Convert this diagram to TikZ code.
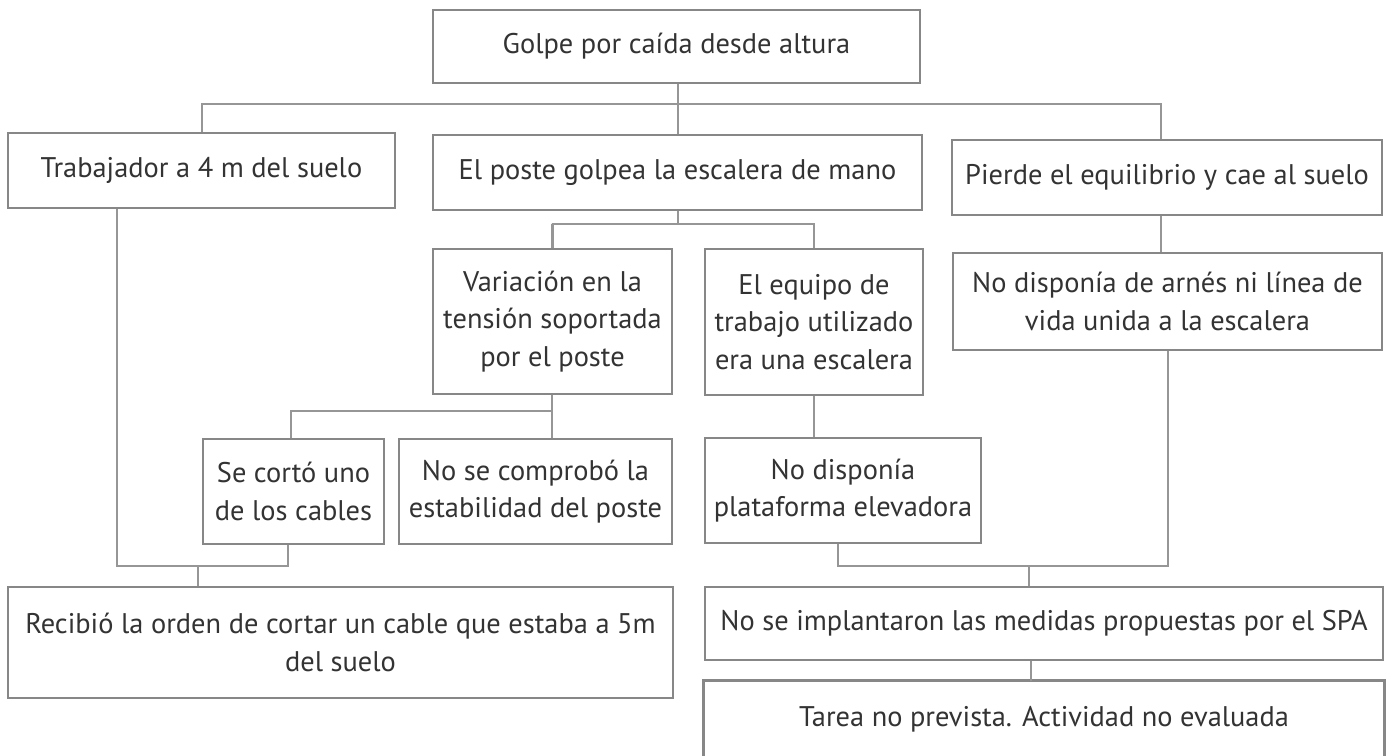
\documentclass[tikz,border=0pt]{standalone}
\usepackage{fontspec}
\setmainfont{PT Sans}
\definecolor{boxcol}{HTML}{878787}
\definecolor{linecol}{HTML}{969696}
\definecolor{txtcol}{HTML}{333333}
\newcommand\bx[7][]{\node[box, #1, minimum width={(#5-#3)*0.75pt}, minimum height={(#6-#4)*0.75pt}] (#2) at ({(#3+#5)/2},{(#4+#6)/2}) {#7};}
\begin{document}
\begin{tikzpicture}[x=0.75pt,y=-0.75pt,
  box/.style={draw=boxcol, line width=2.2pt, fill=white, text=txtcol, align=center, inner sep=0pt,
    font=\fontsize{21.3pt}{28pt}\selectfont},
  conn/.style={draw=linecol, line width=1.6pt}]
\useasboundingbox (0,0) rectangle (1389,756);
\clip (0,0) rectangle (1389,756);
\fill[white] (0,0) rectangle (1389,756);
\coordinate (b1) at (1161,104);
\coordinate (b2) at (552,224);
\coordinate (b3) at (552,411);
\coordinate (b4) at (288,566);
\coordinate (b5) at (1168,566);
\bx{top}{433}{10}{920}{83}{Golpe por caída desde altura}
\bx{trab}{8}{133}{395}{208}{Trabajador a 4 m del suelo}
\bx{poste}{433}{135}{922}{210}{El poste golpea la escalera de mano}
\bx{pierde}{952}{140}{1382}{215}{Pierde el equilibrio y cae al suelo}
\bx{arnes}{953}{253}{1382}{350}{No disponía de arnés ni línea de\\vida unida a la escalera}
\bx{var}{433}{249}{672}{394}{Variación en la\\tensión soportada\\por el poste}
\bx{equipo}{705}{249}{923}{395}{El equipo de\\trabajo utilizado\\era una escalera}
\bx{corto}{203}{439}{384}{544}{Se cortó uno\\de los cables}
\bx{compr}{399}{439}{672}{544}{No se comprobó la\\estabilidad del poste}
\bx{plat}{705}{438}{981}{543}{No disponía\\plataforma elevadora}
\bx{recib}{8}{587}{673}{698}{Recibió la orden de cortar un cable que estaba a 5m\\del suelo}
\bx{impl}{705}{587}{1383}{660}{No se implantaron las medidas propuestas por el SPA}
\bx[draw=none]{tarea}{705}{682}{1383}{756}{Tarea no prevista. Actividad no evaluada}
\draw[boxcol, line width=2.2pt] (tarea.south west) ++(0,10) -- (tarea.north west) -- (tarea.north east) -- ++(0,90);
\draw[conn] (678,0 |- top.south) -- (678,0 |- poste.north);
\draw[conn] (202,0 |- trab.north) |- (b1) -- (1161,0 |- pierde.north);
\draw[conn] (678,0 |- poste.south) -- (678,224);
\draw[conn] (var.north) |- (b2) -| (814,0 |- equipo.north);
\draw[conn] (1161,0 |- pierde.south) -- (1161,0 |- arnes.north);
\draw[conn] (552,0 |- var.south) -- (552,0 |- compr.north);
\draw[conn] (291,0 |- corto.north) |- (b3);
\draw[conn] (814,0 |- equipo.south) -- (814,0 |- plat.north);
\draw[conn] (117,0 |- trab.south) |- (b4) -- (288,0 |- corto.south);
\draw[conn] (198,566) -- (198,0 |- recib.north);
\draw[conn] (838,0 |- plat.south) |- (b5) -- (1168,0 |- arnes.south);
\draw[conn] (1029,566) -- (1029,0 |- impl.north);
\draw[conn] (1031,0 |- impl.south) -- (1031,0 |- tarea.north);
\end{tikzpicture}
\end{document}
